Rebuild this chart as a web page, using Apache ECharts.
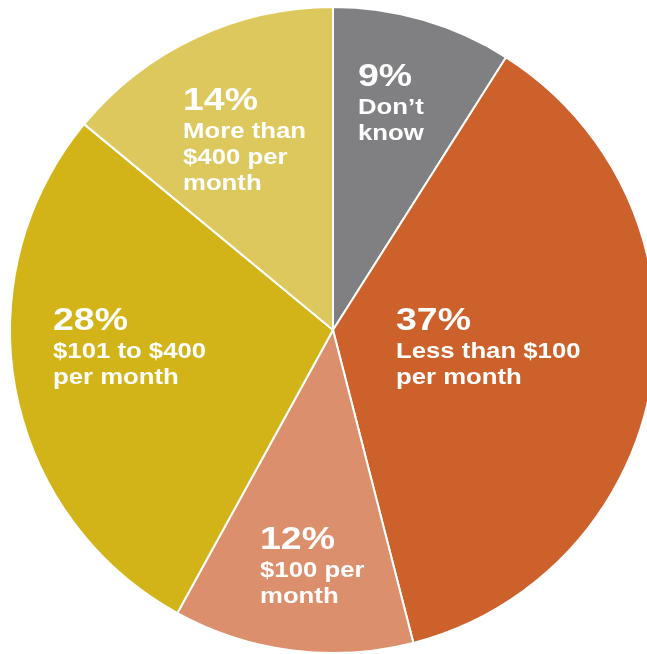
<!DOCTYPE html>
<html>
<head>
<meta charset="utf-8">
<script src="https://cdn.jsdelivr.net/npm/echarts@6/dist/echarts.min.js"></script>
<style>html,body{margin:0;padding:0;background:#fff}#c{width:647px;height:654px}</style>
</head>
<body>
<div id="c"></div>
<script>
// Data
var categories = ["Don\u2019t know", "Less than $100 per month", "$100 per month", "$101 to $400 per month", "More than $400 per month"];
var values = [9, 37, 12, 28, 14];
var labelLines = [
  ["Don\u2019t", "know"],
  ["Less than $100", "per month"],
  ["$100 per", "month"],
  ["$101 to $400", "per month"],
  ["More than", "$400 per", "month"]
];
var colors = ["#808083", "#CD612B", "#DC8F6C", "#D2B418", "#DDC85D"];
// Label anchor layout: [left x, baseline of percent line]
var labelLayout = [[358, 88], [396, 332], [260, 551], [53, 332], [183, 112]];

var chart = echarts.init(document.getElementById('c'), null, {renderer: 'canvas'});
var FONT = '"Liberation Sans", Arial, Helvetica, sans-serif';
var SX = 1.17;
var graphics = [];
values.forEach(function (v, i) {
  var lx = labelLayout[i][0], by = labelLayout[i][1];
  graphics.push({
    type: 'text', x: lx, y: by - 11.2, scaleX: SX, silent: true, z: 100,
    style: {text: v + '%', fill: '#fff', font: 'bold 32px ' + FONT, textAlign: 'left', textVerticalAlign: 'middle'}
  });
  labelLines[i].forEach(function (t, j) {
    var b = by + 28 + j * 26;
    graphics.push({
      type: 'text', x: lx, y: b - 7.7, scaleX: SX, silent: true, z: 100,
      style: {text: t, fill: '#fff', font: 'bold 22px ' + FONT, textAlign: 'left', textVerticalAlign: 'middle'}
    });
  });
});

chart.setOption({
  animation: false,
  backgroundColor: '#fff',
  series: [{
    type: 'pie',
    center: [333, 330],
    radius: 323,
    startAngle: 90,
    clockwise: true,
    z: 2,
    label: {show: false},
    labelLine: {show: false},
    emphasis: {disabled: true},
    itemStyle: {borderColor: '#fff', borderWidth: 2},
    data: categories.map(function (c, i) {
      return {name: c, value: values[i], itemStyle: {color: colors[i]}};
    })
  }],
  graphic: {elements: graphics}
});
</script>
</body>
</html>
